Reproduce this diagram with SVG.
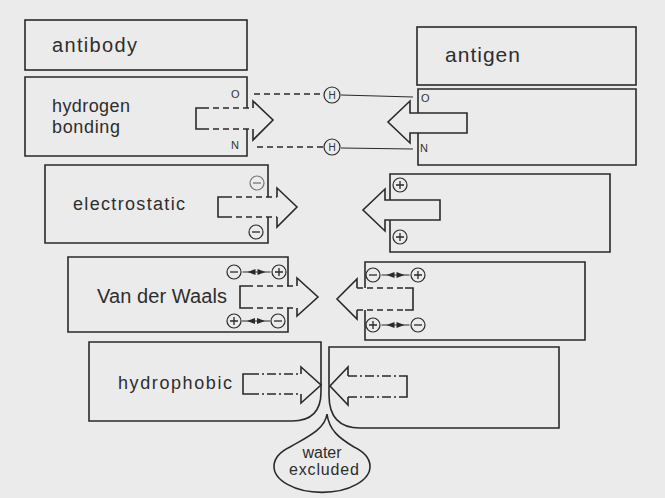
<svg xmlns="http://www.w3.org/2000/svg" xmlns:xlink="http://www.w3.org/1999/xlink" width="665" height="498" viewBox="0 0 665 498">
<style>
.ln{fill:none;stroke:#2a2a2a;stroke-width:1.6;stroke-linejoin:miter}
.dsh{fill:none;stroke:#2a2a2a;stroke-width:1.4;stroke-dasharray:6 4}
.dd{fill:none;stroke:#2a2a2a;stroke-width:1.4;stroke-dasharray:9 3 2 3}
.thin{fill:none;stroke:#2a2a2a;stroke-width:1.2}
.lbl{font-family:"Liberation Sans",Arial,sans-serif;fill:#2e2e2e}
.sm{font-family:"Liberation Sans",Arial,sans-serif;fill:#333;font-size:11px}
.h{font-family:"Liberation Sans",Arial,sans-serif;fill:#333;font-size:10px;text-anchor:middle}
</style>
<defs>
<g id="minus"><circle r="7" fill="none" stroke="#2a2a2a" stroke-width="1.2"/><path d="M-4,0H4" stroke="#2a2a2a" stroke-width="1.3"/></g>
<g id="plus"><circle r="7" fill="none" stroke="#2a2a2a" stroke-width="1.2"/><path d="M-4,0H4M0,-4V4" stroke="#2a2a2a" stroke-width="1.3"/></g>
<g id="dbl"><path d="M-14,0H14" stroke="#2a2a2a" stroke-width="1"/><path d="M-9,0L-1,-3V3Z M9,0L1,-3V3Z" fill="#2a2a2a"/></g>
</defs>
<rect x="0" y="0" width="665" height="498" fill="#ebebeb"/>

<g id="antibody">
<rect x="25" y="20" width="222" height="50" class="ln"/>
<text class="lbl" x="52" y="52" font-size="20" textLength="85" lengthAdjust="spacing">antibody</text>
</g>

<g id="antigen">
<rect x="417" y="27" width="219" height="58" class="ln"/>
<text class="lbl" x="445" y="62" font-size="21" textLength="75" lengthAdjust="spacing">antigen</text>
</g>

<g id="hbond-antibody">
<path class="ln" d="M247,108V77H25V156H247V129"/>
<text class="lbl" x="52" y="112" font-size="18" textLength="78" lengthAdjust="spacing">hydrogen</text>
<text class="lbl" x="52" y="133" font-size="18" textLength="68" lengthAdjust="spacing">bonding</text>
<text class="sm" x="231" y="98">O</text>
<text class="sm" x="231" y="149">N</text>
<path class="ln" d="M253,108V101L273,120L253,140V129"/>
<path class="dsh" d="M203,108H253M203,129H253"/>
<path class="ln" d="M203,108H196V129H203"/>
</g>

<g id="hbond-antigen">
<path class="ln" d="M418,113V89H636V165H418V133"/>
<text class="sm" x="421" y="102">O</text>
<text class="sm" x="420" y="152">N</text>
<path class="ln" d="M410,113H467V133H410V143L388,122L410,101Z"/>
</g>

<g id="electrostatic-antibody">
<path class="ln" d="M268,197V165H45V243H268V217"/>
<text class="lbl" x="73" y="210" font-size="18" textLength="112" lengthAdjust="spacing">electrostatic</text>
<path class="ln" d="M277,197V188L297,207L277,227V217"/>
<path class="dsh" d="M226,197H277M226,217H277"/>
<path class="ln" d="M226,197H218V217H226"/>
<use xlink:href="#minus" x="257" y="183" opacity="0.6"/>
<use xlink:href="#minus" x="256" y="232"/>
</g>

<g id="electrostatic-antigen">
<path class="ln" d="M390,200V174H610V252H390V220"/>
<path class="ln" d="M385,200H440V220H385V231L363,210L385,189Z"/>
<use xlink:href="#plus" x="400" y="185"/>
<use xlink:href="#plus" x="400" y="237"/>
</g>

<g id="vdw-antibody">
<path class="ln" d="M288,286V257H68V332H288V308"/>
<text class="lbl" x="97" y="303" font-size="20" textLength="130" lengthAdjust="spacing">Van der Waals</text>
<path class="ln" d="M297,286V278L318,297L297,316V308"/>
<path class="dsh" d="M247,286H297M247,308H297"/>
<path class="ln" d="M247,286H240V308H247"/>
<use xlink:href="#minus" x="234" y="272"/>
<use xlink:href="#plus" x="279" y="272"/>
<use xlink:href="#dbl" x="256.5" y="272"/>
<use xlink:href="#plus" x="234" y="321"/>
<use xlink:href="#minus" x="278" y="321"/>
<use xlink:href="#dbl" x="256" y="321"/>
</g>

<g id="vdw-antigen">
<path class="ln" d="M365,288V262H585V340H365V310"/>
<path class="ln" d="M357,288V279L337,299L357,319V310M405,310H413V288H405"/>
<path class="dsh" d="M357,288H405M357,310H405"/>
<use xlink:href="#minus" x="373" y="275"/>
<use xlink:href="#plus" x="418" y="275"/>
<use xlink:href="#dbl" x="395.5" y="275"/>
<use xlink:href="#plus" x="373" y="325"/>
<use xlink:href="#minus" x="418" y="325"/>
<use xlink:href="#dbl" x="395.5" y="325"/>
</g>

<g id="hydrophobic-antibody">
<path class="ln" d="M89,342H321V392Q321,421 292,421H89Z"/>
<text class="lbl" x="118" y="389" font-size="18" textLength="114" lengthAdjust="spacing">hydrophobic</text>
<path class="ln" d="M301,374V367L321,385L301,403V394"/>
<path class="dd" d="M250,374H301M250,394H301"/>
<path class="ln" d="M250,374H243V394H250"/>
</g>

<g id="hydrophobic-antigen">
<path class="ln" d="M559,347H329V395Q329,428 360,428H559Z"/>
<path class="ln" d="M348,376V367L330,386L348,405V397"/>
<path class="dd" d="M348,376H400M348,397H400"/>
<path class="ln" d="M400,376H407V397H400"/>
</g>

<g id="water-excluded">
<path class="ln" d="M327,414C325,430 305,438 290,447A48,26 0 1 0 354,447C339,438 329,430 327,414Z"/>
<text class="lbl" x="322" y="458" font-size="16" text-anchor="middle">water</text>
<text class="lbl" x="324" y="475" font-size="16" text-anchor="middle" textLength="70" lengthAdjust="spacing">excluded</text>
</g>

<g id="connectors">
<path class="dsh" d="M254,94H323M257,147H323"/>
<path class="thin" d="M341,95L413,97M341,148L413,149"/>
<g id="H-top"><circle cx="332" cy="95" r="8" fill="none" stroke="#2a2a2a" stroke-width="1.2"/><text class="h" x="332" y="99">H</text></g>
<g id="H-bottom"><circle cx="332" cy="147" r="8" fill="none" stroke="#2a2a2a" stroke-width="1.2"/><text class="h" x="332" y="151">H</text></g>
</g>
</svg>
